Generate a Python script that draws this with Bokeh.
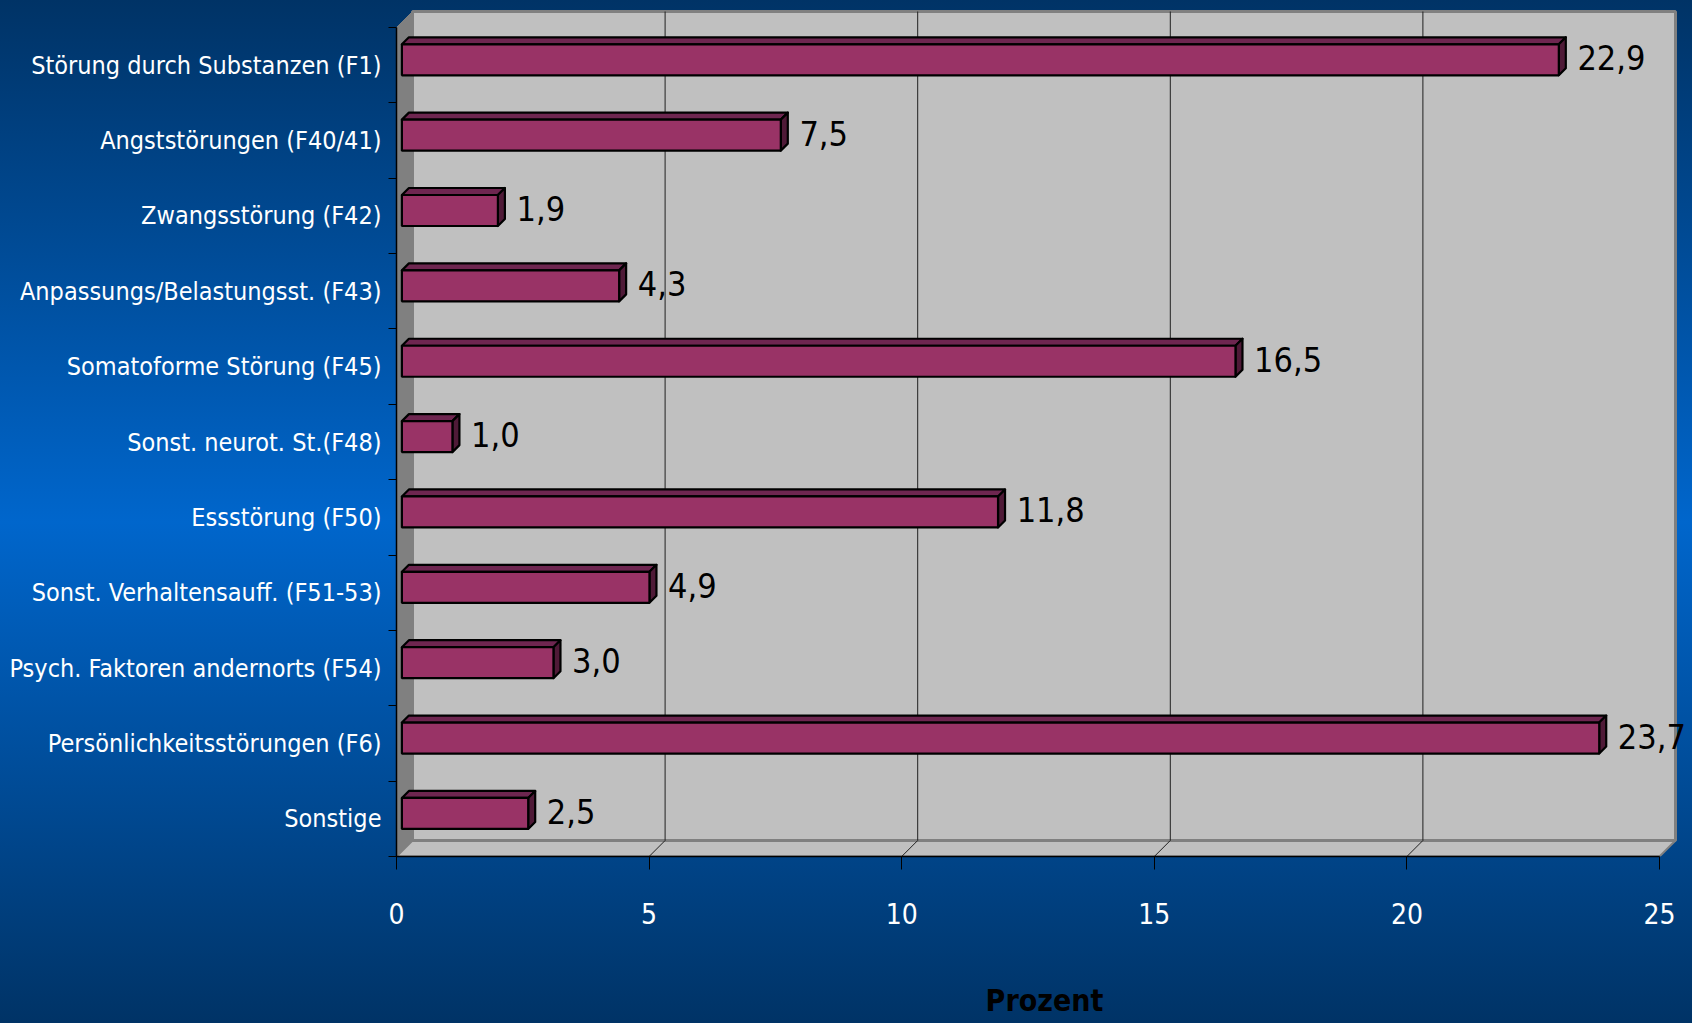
from bokeh.plotting import figure
from bokeh.models import Range1d, FixedTicker, ColumnDataSource
from bokeh.core.properties import value
from bokeh.embed import file_html
from bokeh.resources import INLINE

# ---------------- data ----------------
categories = [
    "Störung durch Substanzen (F1)",
    "Angststörungen (F40/41)",
    "Zwangsstörung (F42)",
    "Anpassungs/Belastungsst. (F43)",
    "Somatoforme Störung (F45)",
    "Sonst. neurot. St.(F48)",
    "Essstörung (F50)",
    "Sonst. Verhaltensauff. (F51-53)",
    "Psych. Faktoren andernorts (F54)",
    "Persönlichkeitsstörungen (F6)",
    "Sonstige",
]
percent = [22.9, 7.5, 1.9, 4.3, 16.5, 1.0, 11.8, 4.9, 3.0, 23.7, 2.5]
x_ticks = [0, 5, 10, 15, 20, 25]
x_label = "Prozent"

# ---------------- layout ----------------
W, H = 1692, 1023
FL, FR, FT, FB = 396, 1692, 0, 856          # frame edges in px
X_MAX = 25
N = len(categories)
PXU_X = (1659 - FL) / X_MAX                  # px per x unit
PXU_Y = (FB - 27) / N                        # px per category
X_END = (FR - FL) / PXU_X
Y0 = -0.5
Y_END = Y0 + (FB - FT) / PXU_Y
Y_TOP = N - 0.5

DX, DY = 16 / PXU_X, 16 / PXU_Y              # chart depth
FX, FY = 5.4 / PXU_X, 5.4 / PXU_Y            # bar front offset
BX, BY = 7.0 / PXU_X, 7.0 / PXU_Y            # bar depth
HH = 15.5 / PXU_Y                            # half bar height

FONT = "'DejaVu Sans Condensed', Roboto, sans-serif"

ypos = [N - 1 - i for i in range(N)]

p = figure(width=W, height=H, output_backend="svg", toolbar_location=None,
           x_range=Range1d(0, X_END), y_range=Range1d(Y0, Y_END),
           min_border_left=FL, min_border_right=W - FR,
           min_border_top=FT, min_border_bottom=H - FB)
p.styles = {"background": "linear-gradient(180deg, #003366 0%, #0066cc 51%, #003366 100%)"}
p.border_fill_alpha = 0
p.background_fill_alpha = 0
p.outline_line_color = None
p.xgrid.visible = False
p.ygrid.visible = False

# ---------------- walls ----------------
p.patch([0, X_MAX, X_MAX + DX, DX], [Y0, Y0, Y0 + DY, Y0 + DY],
        fill_color="#c0c0c0", line_color="#808080", line_width=2)
p.quad(left=DX, right=X_MAX + DX, bottom=Y0 + DY, top=Y_TOP + DY,
       fill_color="#c0c0c0", line_color="#808080", line_width=3)
p.patch([0, DX, DX, 0], [Y0, Y0 + DY, Y_TOP + DY, Y_TOP],
        fill_color="#808080", line_color="#808080", line_width=1)

inner = [t for t in x_ticks if 0 < t < X_MAX]
p.segment(x0=[t + DX for t in inner], y0=[Y0 + DY] * len(inner),
          x1=[t + DX for t in inner], y1=[Y_TOP + DY] * len(inner),
          line_color="#202020", line_width=1)
p.segment(x0=inner, y0=[Y0] * len(inner),
          x1=[t + DX for t in inner], y1=[Y0 + DY] * len(inner),
          line_color="#202020", line_width=1)

# ---------------- bars ----------------
yc = [y + FY for y in ypos]
top_xs, top_ys, side_xs, side_ys = [], [], [], []
for v, c in zip(percent, yc):
    top_xs.append([FX, v + FX, v + FX + BX, FX + BX])
    top_ys.append([c + HH, c + HH, c + HH + BY, c + HH + BY])
    side_xs.append([v + FX, v + FX, v + FX + BX, v + FX + BX])
    side_ys.append([c - HH, c + HH, c + HH + BY, c - HH + BY])

p.patches(top_xs, top_ys, fill_color="#6e2650", line_color="black", line_width=2.2,
          line_join="round")
p.patches(side_xs, side_ys, fill_color="#4f1a37", line_color="black", line_width=2.2,
          line_join="round")
p.hbar(y=yc, left=FX, right=[v + FX for v in percent], height=2 * HH,
       fill_color="#993366", line_color="black", line_width=2.2)

src = ColumnDataSource(dict(x=percent, y=yc,
                            t=[f"{v:.1f}".replace(".", ",") for v in percent]))
p.text(x="x", y="y", text="t", source=src, x_offset=24, y_offset=-2,
       text_font=value(FONT), text_font_size="34px", text_color="black",
       text_baseline="middle", text_align="left")

# ---------------- axes ----------------
xa = p.xaxis[0]
xa.ticker = FixedTicker(ticks=x_ticks, minor_ticks=[])
xa.bounds = (0, X_MAX)
xa.axis_line_color = "black"
xa.axis_line_width = 1.5
xa.major_tick_line_color = "black"
xa.major_tick_out = 13
xa.major_tick_in = 0
xa.minor_tick_line_color = None
xa.major_label_text_font = FONT
xa.major_label_text_font_size = "28px"
xa.major_label_text_color = "white"
xa.major_label_standoff = 33
xa.axis_label = x_label
xa.axis_label_text_font = FONT
xa.axis_label_text_font_style = "bold"
xa.axis_label_text_font_size = "30px"
xa.axis_label_text_color = "black"
xa.axis_label_standoff = 56

ya = p.yaxis[0]
ya.ticker = FixedTicker(ticks=ypos, minor_ticks=[y - 0.5 for y in range(N + 1)])
ya.bounds = (Y0, Y_TOP)
ya.major_label_overrides = {y: c for y, c in zip(ypos, categories)}
ya.axis_line_color = "black"
ya.axis_line_width = 1.5
ya.major_tick_out = 0
ya.major_tick_in = 0
ya.minor_tick_out = 8
ya.minor_tick_in = 0
ya.minor_tick_line_color = "black"
ya.major_label_text_font = FONT
ya.major_label_text_font_size = "25px"
ya.major_label_text_color = "white"
ya.major_label_standoff = 7

open("out.html", "w").write(file_html(p, INLINE))
